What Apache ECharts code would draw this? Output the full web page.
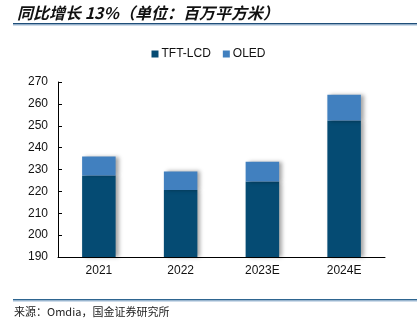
<!DOCTYPE html>
<html>
<head>
<meta charset="utf-8">
<script src="https://cdn.jsdelivr.net/npm/echarts@6/dist/echarts.min.js"></script>
<style>html,body{margin:0;padding:0;background:#fff}#c{width:417px;height:324px}</style>
</head>
<body>
<div id="c"></div>
<script>
const categories = ['2021', '2022', '2023E', '2024E'];
const tftLcd = [227.3, 220.6, 224.5, 252.4];
const oled = [8.6, 8.5, 9.0, 11.8];
const yTicks = [190, 200, 210, 220, 230, 240, 250, 260, 270];

const chart = echarts.init(document.getElementById('c'));
const shadow = {shadowColor: 'rgba(0,0,0,0.35)', shadowBlur: 4, shadowOffsetX: 3, shadowOffsetY: 0};
chart.setOption({
  animation: false,
  textStyle: {fontFamily: 'Liberation Sans'},
  title: {
    text: '同比增长 13%（单位：百万平方米）',
    left: 12, top: 0,
    textStyle: {fontSize: 16, fontStyle: 'italic', fontWeight: 'bold', color: '#111', fontFamily: 'Noto Sans CJK SC'}
  },
  legend: {
    top: 43, left: 'center',
    itemWidth: 7, itemHeight: 7, itemGap: 12,
    icon: 'rect',
    textStyle: {fontSize: 12, color: '#111', padding: [0, 0, 0, -2]},
    data: ['TFT-LCD', 'OLED']
  },
  grid: {left: 58, right: 32, top: 82, bottom: 67},
  xAxis: {
    type: 'category', data: categories,
    axisLine: {lineStyle: {color: '#000', width: 1}},
    axisTick: {inside: true, length: 4, lineStyle: {color: '#000'}},
    axisLabel: {color: '#111', fontSize: 12, margin: 8}
  },
  yAxis: {
    type: 'value', min: yTicks[0], max: yTicks[yTicks.length - 1], interval: 10,
    axisLine: {show: true, lineStyle: {color: '#000', width: 1}},
    axisTick: {show: true, inside: true, length: 4, lineStyle: {color: '#000'}},
    splitLine: {show: false},
    axisLabel: {color: '#111', fontSize: 12, margin: 10}
  },
  series: [
    {name: 'TFT-LCD', type: 'bar', stack: 'a', data: tftLcd, barWidth: '41%',
     itemStyle: Object.assign({color: '#054B73'}, shadow)},
    {name: 'OLED', type: 'bar', stack: 'a', data: oled, barWidth: '41%',
     itemStyle: Object.assign({color: '#4180BF'}, shadow)}
  ],
  graphic: [
    {type: 'rect', shape: {x: 13, y: 23, width: 404, height: 1.5}, style: {fill: '#1F4E79'}, silent: true},
    {type: 'rect', shape: {x: 13, y: 24.5, width: 404, height: 1}, style: {fill: '#9DB9D5'}, silent: true},
    {type: 'rect', shape: {x: 13, y: 299, width: 404, height: 1.5}, style: {fill: '#2E6590'}, silent: true},
    {type: 'rect', shape: {x: 13, y: 300.5, width: 404, height: 1}, style: {fill: '#9DB9D5'}, silent: true},
    {type: 'text', left: 14, top: 306, style: {text: '来源：Omdia，国金证券研究所', fontSize: 11, fill: '#222', fontFamily: 'Noto Sans CJK SC'}}
  ]
});
</script>
</body>
</html>
